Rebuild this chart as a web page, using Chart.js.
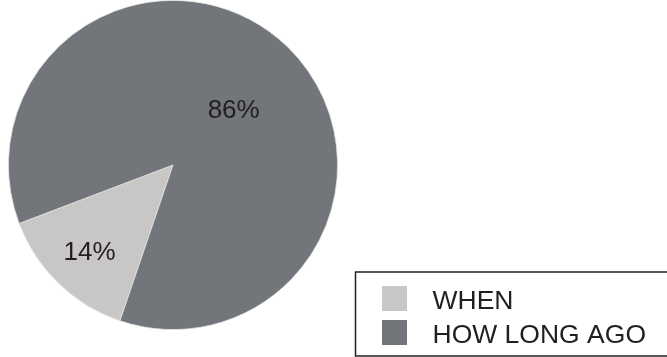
<!DOCTYPE html>
<html>
<head>
<meta charset="utf-8">
<script src="https://cdn.jsdelivr.net/npm/chart.js@4/dist/chart.umd.min.js"></script>
<style>
  html, body { margin: 0; padding: 0; background: #ffffff; }
  #wrap { position: relative; width: 667px; height: 357px; }
</style>
</head>
<body>
<div id="wrap"><canvas id="pie" width="667" height="357"></canvas></div>
<script>
// Share of answers by question type
const categories = ['WHEN', 'HOW LONG AGO'];
const shares = [14, 86];
const valueLabels = ['14%', '86%'];
const sliceColors = ['#c8c7c5', '#72767a'];

const FONT = '"Liberation Sans", Arial, sans-serif';

// Writes each share inside its slice, at a per-slice radius fraction and angle nudge
const sliceLabels = {
  id: 'sliceLabels',
  afterDatasetsDraw(chart) {
    const ctx = chart.ctx;
    const arcs = chart.getDatasetMeta(0).data;
    const radialFraction = [0.73, 0.50];
    const angleNudge = [0, 3.5 * Math.PI / 180];
    ctx.save();
    ctx.fillStyle = '#231f20';
    ctx.font = '26px ' + FONT;
    ctx.textAlign = 'center';
    ctx.textBaseline = 'middle';
    arcs.forEach((arc, i) => {
      const p = arc.getProps(['x', 'y', 'startAngle', 'endAngle', 'outerRadius'], true);
      const mid = (p.startAngle + p.endAngle) / 2 + angleNudge[i];
      const r = p.outerRadius * radialFraction[i];
      ctx.fillText(valueLabels[i], p.x + Math.cos(mid) * r, p.y + Math.sin(mid) * r + 1);
    });
    ctx.restore();
  }
};

// Boxed legend in the lower right corner
const boxedLegend = {
  id: 'boxedLegend',
  afterDraw(chart) {
    const ctx = chart.ctx;
    const colors = chart.data.datasets[0].backgroundColor;
    ctx.save();
    ctx.strokeStyle = '#231f20';
    ctx.lineWidth = 1.5;
    ctx.strokeRect(355.5, 272, 330, 84);
    ctx.font = '26.5px ' + FONT;
    ctx.textAlign = 'left';
    ctx.textBaseline = 'alphabetic';
    chart.data.labels.forEach((label, i) => {
      const y = 286 + i * 34;
      ctx.fillStyle = colors[i];
      ctx.fillRect(382, y, 25, 25);
      ctx.fillStyle = '#231f20';
      ctx.fillText(label, 432.5, y + 22.5);
    });
    ctx.restore();
  }
};

new Chart(document.getElementById('pie'), {
  type: 'pie',
  data: {
    labels: categories,
    datasets: [{
      data: shares,
      backgroundColor: sliceColors,
      borderColor: '#e6e6e6',
      borderWidth: 0.8
    }]
  },
  options: {
    responsive: false,
    animation: false,
    rotation: 198.8,
    layout: { padding: { left: 8, top: 0, right: 329, bottom: 27 } },
    plugins: {
      legend: { display: false },
      tooltip: { enabled: false }
    }
  },
  plugins: [sliceLabels, boxedLegend]
});
</script>
</body>
</html>
